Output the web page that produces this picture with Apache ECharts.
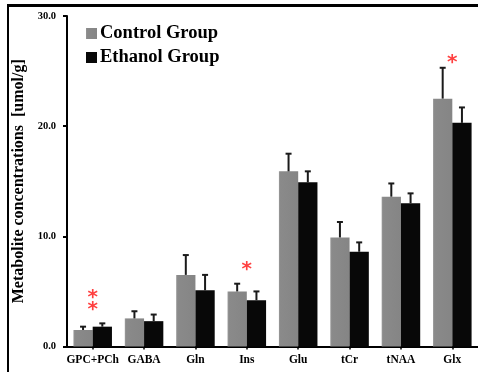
<!DOCTYPE html>
<html><head><meta charset="utf-8">
<script src="https://cdn.jsdelivr.net/npm/echarts@6/dist/echarts.min.js"></script>
<style>html,body{margin:0;padding:0;background:#fff}#c{width:478px;height:372px}</style>
</head><body><div id="c"></div>
<script>
const categories = ['GPC+PCh','GABA','Gln','Ins','Glu','tCr','tNAA','Glx'];
const controlValues = [1.5, 2.55, 6.5, 5.0, 15.9, 9.9, 13.6, 22.5];
const controlErrors = [0.3, 0.65, 1.8, 0.7, 1.6, 1.4, 1.2, 2.8];
const ethanolValues = [1.8, 2.3, 5.1, 4.2, 14.9, 8.6, 13.0, 20.3];
const ethanolErrors = [0.3, 0.6, 1.4, 0.8, 1.0, 0.85, 0.9, 1.4];
const yTicks = [0, 10, 20, 30];
const asterisks = [[0, 4.76], [0, 3.67], [3, 7.3], [7, 26.07]];

const serif = '"Liberation Serif", "Times New Roman", serif';
const chart = echarts.init(document.getElementById('c'), null, {renderer: 'canvas'});

function errSeries(vals, errs, side) {
  return {
    type: 'custom',
    z: 5,
    data: vals.map((v, i) => [i, v, v + errs[i]]),
    renderItem: function (params, api) {
      const band = api.size([1, 0])[0];
      const off = side * 0.1875 * band;
      const p0 = api.coord([api.value(0), api.value(1)]);
      const p1 = api.coord([api.value(0), api.value(2)]);
      const x = p0[0] + off;
      const st = {stroke: '#1a1a1a', lineWidth: 2};
      return {type: 'group', children: [
        {type: 'line', shape: {x1: x, y1: p0[1], x2: x, y2: p1[1]}, style: st},
        {type: 'line', shape: {x1: x - 3, y1: p1[1], x2: x + 3, y2: p1[1]}, style: st}
      ]};
    }
  };
}

chart.setOption({
  animation: false,
  backgroundColor: '#fff',
  grid: {left: 67, top: 16, width: 415, height: 330.5},
  legend: {
    orient: 'vertical', left: 81, top: 19,
    itemWidth: 11, itemHeight: 11, itemGap: 5,
    icon: 'rect',
    data: ['Control Group', 'Ethanol Group'],
    textStyle: {fontFamily: serif, fontWeight: 'bold', fontSize: 18.5, color: '#000', padding: [0,0,0,-2]}
  },
  xAxis: {
    type: 'category', data: categories,
    axisLine: {lineStyle: {color: '#000', width: 2}},
    axisTick: {show: true, alignWithLabel: true, length: 3, lineStyle: {color: '#000', width: 1.5}},
    axisLabel: {fontFamily: serif, fontWeight: 'bold', fontSize: 11.5, color: '#000', margin: 8, interval: 0}
  },
  yAxis: {
    type: 'value', min: yTicks[0], max: yTicks[yTicks.length - 1], interval: 10,
    name: 'Metabolite concentrations  [umol/g]',
    nameLocation: 'middle', nameGap: 36, nameRotate: 90,
    nameTextStyle: {fontFamily: serif, fontWeight: 'bold', fontSize: 16, color: '#000'},
    axisLine: {show: true, lineStyle: {color: '#000', width: 2}},
    axisTick: {show: true, length: 4, lineStyle: {color: '#000', width: 2}},
    axisLabel: {fontFamily: serif, fontWeight: 'bold', fontSize: 10.5, color: '#000', margin: 11,
      formatter: v => v.toFixed(1)},
    splitLine: {show: false}
  },
  series: [
    {name: 'Control Group', type: 'bar', data: controlValues, barGap: '0%', barCategoryGap: '25%',
     itemStyle: {color: new echarts.graphic.LinearGradient(0, 0, 1, 0, [
       {offset: 0, color: '#9a9a9a'}, {offset: 0.08, color: '#8a8a8a'}, {offset: 1, color: '#858585'}]),
       borderColor: '#a8a8a8', borderWidth: 0}},
    {name: 'Ethanol Group', type: 'bar', data: ethanolValues,
     itemStyle: {color: '#080808'}},
    errSeries(controlValues, controlErrors, -1),
    errSeries(ethanolValues, ethanolErrors, 1),
    {type: 'scatter', data: asterisks, symbolSize: 0, z: 10,
     label: {show: true, formatter: '*', position: 'inside', color: '#ff1010',
       fontFamily: '"DejaVu Sans", sans-serif', fontWeight: 'bold', fontSize: 20, offset: [0, 4]}}
  ],
  graphic: [
    {type: 'line', shape: {x1: 8, y1: 5.5, x2: 478, y2: 5.5}, style: {stroke: '#000', lineWidth: 3}},
    {type: 'line', shape: {x1: 8, y1: 4, x2: 8, y2: 372}, style: {stroke: '#000', lineWidth: 2}}
  ]
});
</script></body></html>
